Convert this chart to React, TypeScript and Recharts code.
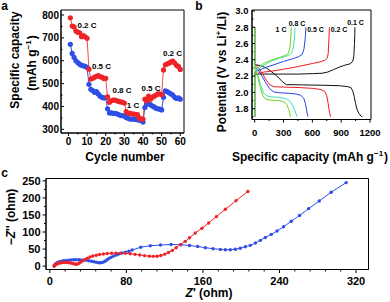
import React from 'react';
import { LineChart, Line, XAxis, YAxis, ReferenceArea } from 'recharts';

// ---- panel a: rate capability ----
const cycles = [1,2,3,4,5,6,7,8,9,10,11,12,13,14,15,16,17,18,19,20,21,22,23,24,25,26,27,28,29,30,31,32,33,34,35,36,37,38,39,40,41,42,43,44,45,46,47,48,49,50,51,52,53,54,55,56,57,58,59,60];
const capRed = [788,752,748,730,725,722,705,710,705,698,563,520,523,528,532,535,530,528,522,523,442,418,425,428,428,425,422,420,418,415,378,370,370,368,367,366,365,350,345,345,432,425,445,432,440,445,450,455,455,452,560,582,587,590,595,598,590,580,575,562];
const capBlue = [672,632,615,600,592,585,580,578,575,570,497,475,470,462,465,455,445,440,437,438,390,372,372,370,370,368,365,360,360,358,352,348,345,345,345,343,342,340,340,332,395,410,412,408,402,398,392,390,388,385,440,468,465,460,455,450,440,435,438,432];
const rateLabelsA = ['0.2 C', '0.5 C', '0.8 C', '1 C', '0.5 C', '0.2 C'];

// ---- panel b: charge / discharge profiles [capacity, voltage] ----
const chg01 = [[0,1.7],[0,2.22],[40,2.225],[150,2.225],[300,2.225],[450,2.225],[600,2.23],[700,2.235],[760,2.25],[820,2.28],[880,2.31],[940,2.335],[990,2.35],[1020,2.38],[1032,2.45],[1038,2.6],[1041,2.7],[1043,2.8]];
const dis01 = [[0,2.8],[0,2.34],[60,2.33],[120,2.3],[180,2.25],[240,2.19],[290,2.13],[330,2.095],[380,2.095],[500,2.092],[700,2.088],[880,2.082],[960,2.072],[1000,2.06],[1020,2.02],[1035,1.95],[1050,1.86],[1065,1.79],[1085,1.74],[1105,1.71],[1118,1.7]];
const chg02 = [[0,1.7],[0,2.22],[30,2.235],[100,2.25],[200,2.265],[300,2.285],[400,2.305],[500,2.33],[600,2.355],[680,2.375],[730,2.395],[755,2.42],[765,2.48],[770,2.6],[774,2.7],[777,2.8]];
const dis02 = [[0,2.8],[0,2.35],[40,2.3],[80,2.23],[120,2.15],[160,2.09],[200,2.07],[300,2.065],[450,2.06],[600,2.05],[690,2.035],[730,2.01],[750,1.96],[762,1.88],[772,1.8],[782,1.74],[790,1.7]];
const chg05 = [[0,1.7],[0,2.24],[30,2.265],[100,2.3],[200,2.34],[300,2.38],[400,2.415],[460,2.44],[495,2.47],[512,2.53],[522,2.62],[528,2.7],[533,2.8]];
const dis05 = [[0,2.8],[0,2.32],[40,2.27],[80,2.19],[120,2.11],[160,2.04],[200,2.005],[260,1.995],[350,1.99],[430,1.98],[480,1.965],[510,1.93],[528,1.86],[540,1.78],[550,1.72],[555,1.7]];
const chg08 = [[0,1.7],[0,2.25],[40,2.29],[100,2.34],[180,2.385],[260,2.42],[330,2.445],[370,2.465],[392,2.5],[405,2.57],[413,2.65],[420,2.8]];
const dis08 = [[0,2.8],[0,2.3],[30,2.22],[60,2.1],[90,2.0],[120,1.96],[170,1.945],[250,1.94],[320,1.925],[370,1.89],[400,1.83],[420,1.77],[435,1.72],[442,1.7]];
const chg1 = [[0,1.7],[0,2.26],[40,2.31],[100,2.36],[180,2.4],[260,2.43],[320,2.455],[350,2.48],[365,2.54],[373,2.63],[378,2.72],[380,2.8]];
const dis1 = [[0,2.8],[0,2.3],[30,2.2],[55,2.07],[85,1.96],[115,1.915],[170,1.905],[250,1.9],[300,1.885],[335,1.85],[355,1.79],[365,1.74],[370,1.7]];
const rateLabelsB = ['0.1 C', '0.2 C', '0.5 C', '0.8 C', '1 C'];

// ---- panel c: Nyquist plots ----
const redRe = [4.5,5,5.5,6.2,7,8,9,10.5,12,14,16,18,20,22,24,26,27.5,29,30.5,32,34,36.5,39,42,45,48.5,52,56,60,64.5,69,74,79,84,89,94,99,104,108,112,116,120,124,128,132,136.5,141.5,146,152,159,166,174,183.4,194.6,207];
const redIm = [0,1.5,3,4.5,6,7.2,8.3,9.3,10,10.6,10.8,10.6,10,9,7.6,6.2,5.5,6.2,8.5,11.5,15,19,23,26.5,29.5,32,34,35.5,36.8,37.6,38,38,37.4,36.2,34.5,32.5,30.6,29.2,28.6,29,31,35,40,46,54,63,72.5,83,97,111,126.5,145,166.7,192,219];
const blueRe = [4.5,5,5.5,6.5,7.7,9,10.5,12.5,14.6,17,19.8,22.5,25,27.5,30.3,33,35.5,38,40.7,43.5,46,48.5,51,53,54.7,56.5,58,60,61.6,64,66.8,69.5,72,75.5,79,82.5,86,95,105,115.6,126.7,137,146,154.5,162.5,170.6,178.2,183.4,188.6,193.8,199,204.3,209.5,214.8,220,225.2,231.4,237.4,244.3,252.3,261,270.4,281.5,294,309.7];
const blueIm = [0,2.5,5,7.5,9.7,11.5,13,14.5,15.8,16.8,17.6,18.2,18.5,18.6,18.5,18.2,17.6,16.8,15.7,14.3,12.7,11.2,10,9.8,10.8,12.5,15,18.5,22.6,26,29.4,32.5,35.3,38.5,41,43.5,47,55.5,59.7,61.8,63.5,62.7,60.5,57.5,54,51,49,48,48,49.5,52.5,56.8,60.8,67.6,75.5,84,93,103,115.6,131.4,148.5,168.5,191,216.7,245];

// tick values
const aXTicks = [0,5,10,15,20,25,30,35,40,45,50,55,60];
const aXMajor = [0,10,20,30,40,50,60];
const aYTicks = [300,350,400,450,500,550,600,650,700,750,800];
const aYMajor = [300,400,500,600,700,800];
const bXTicks = [0,150,300,450,600,750,900,1050,1200];
const bXMajor = [0,300,600,900,1200];
const bYTicks = [1.7,1.8,1.9,2.0,2.1,2.2,2.3,2.4,2.5,2.6,2.7,2.8,2.9,3.0];
const bYMajor = [1.8,2.0,2.2,2.4,2.6,2.8,3.0];
const cXTicks = [0,16,32,48,64,80,96,112,128,144,160,176,192,208,224,240,256,272,288,304,320];
const cXMajor = [0,80,160,240,320];
const cYTicks = [0,25,50,75,100,125,150,175,200,225,250];
const cYMajor = [0,50,100,150,200,250];

const RED = '#ee2428';
const BLUE = '#2f4ee6';
const FONT = '"Liberation Sans", Arial, sans-serif';

const aX = [-4, 62];
const aY = [284, 822];
const bX = [-28, 1210];
const bY = [1.667, 3.012];
const cX = [-4, 333];
const cY = [-10, 257];

const aData = cycles.map((c, i) => ({ cycle: c, red: capRed[i], blue: capBlue[i] }));
const toPts = (arr: number[][]) => arr.map(([x, y]) => ({ x, y }));
const zip = (xs: number[], ys: number[]) => xs.map((x, i) => ({ x, y: ys[i] }));

type TickOpts = {
  side: 'left' | 'bottom';
  majors: number[];
  margin: number;
  majorLen: number;
  minorLen: number;
  inward?: boolean;
  fontSize: number;
  fmt?: (v: number) => string;
};

const makeTick = (o: TickOpts) => (props: any) => {
  const { x, y, payload } = props;
  const v = payload.value;
  const isMajor = o.majors.some((m) => Math.abs(m - v) < 1e-6);
  const len = isMajor ? o.majorLen : o.minorLen;
  const dir = o.inward ? -1 : 1;
  const label = o.fmt ? o.fmt(v) : String(v);
  const txt = { fontFamily: FONT, fontWeight: 'bold' as const, fontSize: o.fontSize, fill: '#000' };
  if (o.side === 'bottom') {
    const ay = y - o.margin;
    return (
      <g>
        <line x1={x} x2={x} y1={ay} y2={ay + dir * len} stroke="#000" strokeWidth={1} />
        {isMajor && <text x={x} y={y} dy="0.71em" textAnchor="middle" style={txt}>{label}</text>}
      </g>
    );
  }
  const ax = x + o.margin;
  return (
    <g>
      <line x1={ax} x2={ax - dir * len} y1={y} y2={y} stroke="#000" strokeWidth={1} />
      {isMajor && <text x={x} y={y} dy="0.355em" textAnchor="end" style={txt}>{label}</text>}
    </g>
  );
};

// text helper for the overlay svg (centered, optionally rotated)
const T: React.FC<{ x: number; y: number; size: number; rotate?: boolean; children: React.ReactNode }> = ({ x, y, size, rotate, children }) => (
  <text
    transform={`translate(${x},${y})${rotate ? ' rotate(-90)' : ''}`}
    textAnchor="middle"
    dominantBaseline="central"
    fontSize={size}
    fontFamily={FONT}
    fontWeight="bold"
    fill="#000"
  >
    {children}
  </text>
);

const Sup: React.FC<{ t: string }> = ({ t }) => (
  <>
    <tspan dy={-4.5} fontSize={8}>{t}</tspan>
    <tspan dy={4.5}>{'\u200a'}</tspan>
  </>
);

const App: React.FC = () => {
  return (
    <div
      style={{
        position: 'absolute',
        left: 0,
        top: 0,
        width: 390,
        height: 302,
        background: '#fff',
        overflow: 'hidden',
      }}
    >
      {/* panel a */}
      <div style={{ position: 'absolute', left: 0, top: 0 }}>
        <LineChart width={190} height={150} data={aData} margin={{ top: 10, right: 6, bottom: 0, left: 0 }}>
          <XAxis
            dataKey="cycle"
            type="number"
            domain={aX}
            allowDataOverflow
            ticks={aXTicks}
            interval={0}
            height={17}
            tickSize={0}
            tickMargin={4.5}
            stroke="#000"
            tick={makeTick({ side: 'bottom', majors: aXMajor, margin: 4.5, majorLen: 3, minorLen: 1.5, fontSize: 10 })}
          />
          <YAxis
            type="number"
            domain={aY}
            allowDataOverflow
            ticks={aYTicks}
            interval={0}
            width={61}
            tickSize={0}
            tickMargin={2}
            stroke="#000"
            tick={makeTick({ side: 'left', majors: aYMajor, margin: 2, majorLen: 3, minorLen: 1.5, inward: true, fontSize: 10 })}
          />
          <ReferenceArea x1={aX[0]} x2={aX[1]} y1={aY[0]} y2={aY[1]} fill="none" stroke="#000" strokeWidth={1} />
          <Line dataKey="blue" stroke={BLUE} strokeWidth={1} isAnimationActive={false}
            dot={{ r: 2.6, fill: BLUE, stroke: BLUE, strokeWidth: 0 }} activeDot={false} />
          <Line dataKey="red" stroke="#f04a4e" strokeWidth={1} isAnimationActive={false}
            dot={{ r: 2.6, fill: RED, stroke: RED, strokeWidth: 0 }} activeDot={false} />
        </LineChart>
      </div>

      {/* panel b */}
      <div style={{ position: 'absolute', left: 200, top: 0 }}>
        <LineChart width={185} height={150} margin={{ top: 10, right: 14, bottom: 0, left: 0 }}>
          <XAxis
            dataKey="x"
            type="number"
            domain={bX}
            allowDataOverflow
            ticks={bXTicks}
            interval={0}
            height={30.5}
            tickSize={0}
            tickMargin={9.5}
            stroke="#000"
            tick={makeTick({ side: 'bottom', majors: bXMajor, margin: 9.5, majorLen: 3, minorLen: 1.5, fontSize: 9.5 })}
          />
          <YAxis
            type="number"
            domain={bY}
            allowDataOverflow
            ticks={bYTicks}
            interval={0}
            width={52}
            tickSize={0}
            tickMargin={3.5}
            stroke="#000"
            tick={makeTick({ side: 'left', majors: bYMajor, margin: 3.5, majorLen: 3, minorLen: 1.5, inward: true, fontSize: 9.5, fmt: (v) => v.toFixed(1) })}
          />
          <ReferenceArea x1={bX[0]} x2={bX[1]} y1={bY[0]} y2={bY[1]} fill="none" stroke="#000" strokeWidth={1} />
          <Line data={toPts(chg01)} dataKey="y" stroke="#111" strokeWidth={1} dot={false} activeDot={false} isAnimationActive={false} />
          <Line data={toPts(dis01)} dataKey="y" stroke="#111" strokeWidth={1} dot={false} activeDot={false} isAnimationActive={false} />
          <Line data={toPts(chg02)} dataKey="y" stroke="#ee1c24" strokeWidth={1} dot={false} activeDot={false} isAnimationActive={false} />
          <Line data={toPts(dis02)} dataKey="y" stroke="#ee1c24" strokeWidth={1} dot={false} activeDot={false} isAnimationActive={false} />
          <Line data={toPts(chg05)} dataKey="y" stroke="#2a44e8" strokeWidth={1} dot={false} activeDot={false} isAnimationActive={false} />
          <Line data={toPts(dis05)} dataKey="y" stroke="#2a44e8" strokeWidth={1} dot={false} activeDot={false} isAnimationActive={false} />
          <Line data={toPts(chg08)} dataKey="y" stroke="#3fe0b4" strokeWidth={1} dot={false} activeDot={false} isAnimationActive={false} />
          <Line data={toPts(dis08)} dataKey="y" stroke="#3fe0b4" strokeWidth={1} dot={false} activeDot={false} isAnimationActive={false} />
          <Line data={toPts(chg1)} dataKey="y" stroke="#6ad81a" strokeWidth={1} dot={false} activeDot={false} isAnimationActive={false} />
          <Line data={toPts(dis1)} dataKey="y" stroke="#6ad81a" strokeWidth={1} dot={false} activeDot={false} isAnimationActive={false} />
        </LineChart>
      </div>

      {/* panel c */}
      <div style={{ position: 'absolute', left: 0, top: 160 }}>
        <LineChart width={390} height={142} margin={{ top: 18.5, right: 21.5, bottom: 0, left: 0 }}>
          <XAxis
            dataKey="x"
            type="number"
            domain={cX}
            allowDataOverflow
            ticks={cXTicks}
            interval={0}
            height={32.5}
            tickSize={0}
            tickMargin={8}
            stroke="#000"
            tick={makeTick({ side: 'bottom', majors: cXMajor, margin: 8, majorLen: 3.5, minorLen: 2, fontSize: 11 })}
          />
          <YAxis
            type="number"
            domain={cY}
            allowDataOverflow
            ticks={cYTicks}
            interval={0}
            width={46}
            tickSize={0}
            tickMargin={5.5}
            stroke="#000"
            tick={makeTick({ side: 'left', majors: cYMajor, margin: 5.5, majorLen: 3.5, minorLen: 2, fontSize: 11 })}
          />
          <ReferenceArea x1={cX[0]} x2={cX[1]} y1={cY[0]} y2={cY[1]} fill="none" stroke="#000" strokeWidth={1} />
          <Line data={zip(blueRe, blueIm)} dataKey="y" stroke={BLUE} strokeWidth={1} isAnimationActive={false}
            dot={{ r: 1.7, fill: BLUE, stroke: BLUE, strokeWidth: 0 }} activeDot={false} />
          <Line data={zip(redRe, redIm)} dataKey="y" stroke={RED} strokeWidth={1} isAnimationActive={false}
            dot={{ r: 1.7, fill: RED, stroke: RED, strokeWidth: 0 }} activeDot={false} />
        </LineChart>
      </div>

      {/* text overlay */}
      <svg width={390} height={302} style={{ position: 'absolute', left: 0, top: 0, pointerEvents: 'none' }}>
        <T x={4.5} y={6} size={12}>a</T>
        <T x={199} y={5.5} size={12}>b</T>
        <T x={4.5} y={173} size={12}>c</T>

        <T x={15} y={60} size={12} rotate>Specific capacity</T>
        <T x={32} y={63} size={12} rotate>(mAh g<Sup t="−1" />)</T>
        <T x={125} y={157} size={12}>Cycle number</T>
        <T x={222} y={72} size={12} rotate>Potential (V vs Li<Sup t="+" />/Li)</T>
        <T x={310} y={157} size={12}>Specific capacity (mAh g<Sup t="−1" />)</T>
        <T x={11} y={217} size={12} rotate>−<tspan fontStyle="italic">Z</tspan>'' (ohm)</T>
        <T x={209} y={293} size={12}><tspan fontStyle="italic">Z</tspan>' (ohm)</T>

        <T x={87} y={25} size={8}>{rateLabelsA[0]}</T>
        <T x={101.5} y={66} size={8}>{rateLabelsA[1]}</T>
        <T x={122} y={90} size={8}>{rateLabelsA[2]}</T>
        <T x={133} y={105} size={8}>{rateLabelsA[3]}</T>
        <T x={151} y={88} size={8}>{rateLabelsA[4]}</T>
        <T x={172.5} y={53} size={8}>{rateLabelsA[5]}</T>

        <T x={355.5} y={22} size={7}>{rateLabelsB[0]}</T>
        <T x={339} y={29} size={7}>{rateLabelsB[1]}</T>
        <T x={315.5} y={29} size={7}>{rateLabelsB[2]}</T>
        <T x={297} y={23} size={7}>{rateLabelsB[3]}</T>
        <T x={281} y={29} size={7}>{rateLabelsB[4]}</T>
      </svg>
    </div>
  );
};

export default App;
